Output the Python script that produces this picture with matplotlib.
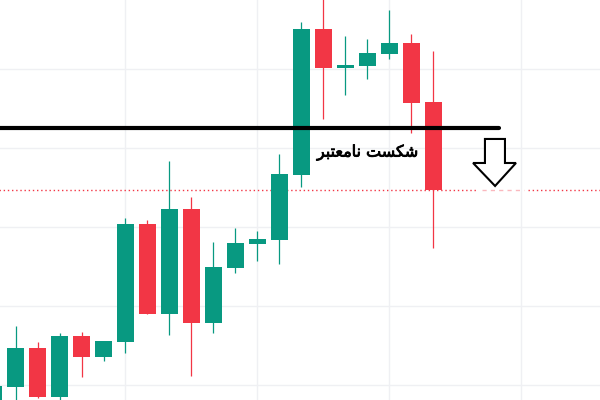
import matplotlib
matplotlib.use("Agg")
import matplotlib.pyplot as plt
from matplotlib.patches import Polygon
import matplotlib.patheffects as pe

# OHLC data (price units; one grid step = 10)
opens  = [96.58, 99.75, 104.68, 98.48, 106.20, 103.54, 105.44, 120.38, 108.99, 122.28,
          107.85, 114.81, 117.85, 118.35, 126.58, 145.06, 140.13, 140.38, 141.90, 143.29, 135.82]
highs  = [99.87, 107.47, 105.44, 106.58, 106.71, 105.57, 121.14, 120.89, 128.35, 123.80,
          118.10, 119.87, 119.49, 129.24, 145.95, 149.37, 144.18, 143.80, 147.47, 144.43, 142.28]
lows   = [95.82, 97.47, 98.35, 97.47, 101.01, 103.04, 104.05, 108.99, 106.33, 101.14,
          106.58, 114.18, 115.70, 115.32, 125.06, 133.67, 136.71, 138.73, 141.27, 131.90, 117.34]
closes = [99.87, 104.68, 98.48, 106.20, 103.54, 105.57, 120.38, 108.99, 122.28, 107.85,
          114.94, 117.97, 118.48, 126.71, 145.06, 140.13, 140.51, 142.03, 143.29, 135.70, 124.68]

resistance = 132.53
level_line = 124.68
label_text = "\uFEAE\uFE92\uFE98\uFECC\uFEE3\uFE8E\uFEE7 \uFE96\uFEB4\uFB91\uFEB7"  # شکست نامعتبر

GREEN = "#089981"
RED = "#F23645"

fig = plt.figure(figsize=(6, 4), dpi=100)
ax = fig.add_axes([0, 0, 1, 1])
ax.set_xlim(0.295, 27.57)
ax.set_ylim(98.10, 148.73)

for v in [0, 6, 12, 18, 24]:
    ax.axvline(v, color="#eff0f3", lw=1, zorder=0)
for v in [100, 110, 120, 130, 140]:
    ax.axhline(v, color="#eff0f3", lw=1, zorder=0)

xs = list(range(len(opens)))
w = 17 / 22
for i, o, h, l, c in zip(xs, opens, highs, lows, closes):
    col = GREEN if c >= o else RED
    ax.vlines(i, l, h, color=col, lw=0.9, zorder=2)
    ax.bar(i, abs(c - o), bottom=min(o, c), width=w, color=col, zorder=3, linewidth=0)

# red dotted level
ax.plot([0, 22.0], [level_line, level_line], color=RED, lw=1, ls=(0, (1, 2)), zorder=1)
ax.plot([24.3, 28], [level_line, level_line], color=RED, lw=1, ls=(0, (1, 2)), zorder=1)
ax.plot([22.2, 24.1], [level_line, level_line], color=RED, lw=1, ls=(0, (3, 3)), alpha=0.35, zorder=1)

# black resistance line
ax.plot([0, 23.0], [resistance, resistance], color="black", lw=3, solid_capstyle="round", zorder=4)

# label
ax.text(17.02, 129.4, label_text, ha="center", va="center", fontsize=11.5,
        family=["DejaVu Sans"], color="black", zorder=5,
        path_effects=[pe.withStroke(linewidth=0.6, foreground="black")])

# hollow down arrow
arrow = Polygon([(22.34, 131.14), (23.25, 131.14), (23.25, 128.10), (23.75, 128.10),
                 (22.80, 125.19), (21.80, 128.10), (22.34, 128.10)],
                closed=True, facecolor="white", edgecolor="black", lw=1.5, zorder=5,
                joinstyle="miter")
ax.add_patch(arrow)

ax.axis("off")
fig.savefig("out.png", dpi=100, facecolor="white")
